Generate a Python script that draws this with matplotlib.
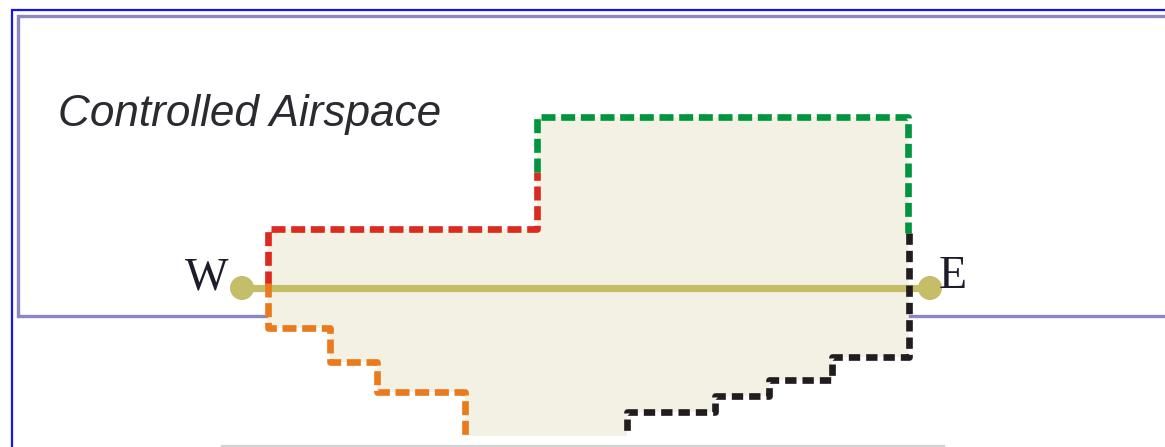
import matplotlib
matplotlib.use("Agg")
import matplotlib.pyplot as plt
from matplotlib.patches import Polygon, Circle
import numpy as np

# ---- diagram data (pixel-like diagram units, y grows downward) ----
region_title = "Controlled Airspace"
west_label = "W"
east_label = "E"

route_x = [242, 930]
route_y = [288, 288]

red_x = [268, 268, 537, 537]
red_y = [285, 229, 229, 172]

green_x = [537, 537, 908, 908]
green_y = [172, 117, 117, 233]

black_x = [909, 909, 832, 832, 769, 769, 715, 715, 627, 627]
black_y = [233, 357, 357, 380, 380, 396, 396, 412, 412, 436]

orange_x = [268, 268, 330, 330, 377, 377, 465, 465]
orange_y = [283, 328, 328, 362, 362, 392, 392, 436]

fill_x = [268, 537, 537, 908, 909, 832, 832, 769, 769, 715, 715, 627, 627,
          465, 465, 377, 377, 330, 330, 268]
fill_y = [229, 229, 117, 117, 357, 357, 380, 380, 396, 396, 412, 412, 436,
          436, 392, 392, 362, 362, 328, 328]

W, H = 1165, 447
fig = plt.figure(figsize=(W / 100, H / 100), dpi=100)
ax = fig.add_axes([0, 0, 1, 1])
ax.set_xlim(0, W)
ax.set_ylim(H, 0)
ax.axis("off")

# outer blue frame
ax.plot([12, 12, W + 5], [H + 5, 9.5, 9.5], color="#1414f5", lw=1.6,
        solid_joinstyle="miter", zorder=1)
# lavender controlled-airspace box
ax.plot([W + 5, 18, 18, W + 5], [15.5, 15.5, 316, 316], color="#8c87c2",
        lw=2.4, solid_joinstyle="miter", zorder=1)
# bottom gray line
ax.plot([222, 944], [446, 446], color="#d2d2d2", lw=1.6, zorder=1)

# filled region
ax.add_patch(Polygon(np.column_stack([fill_x, fill_y]), closed=True,
                     facecolor="#f3f0e4", edgecolor="none", zorder=2))

# route line and endpoints
ax.plot(route_x, route_y, color="#c4be68", lw=5.2, solid_capstyle="butt", zorder=3)
for x, y in zip(route_x, route_y):
    ax.add_patch(Circle((x, y), 12, facecolor="#c4be68", edgecolor="none", zorder=3))

dash = (2.1, 0.85)
kw = dict(lw=4.8, dashes=dash, dash_capstyle="butt", solid_joinstyle="miter", zorder=4)
ax.plot(red_x, red_y, color="#dc2a1f", **kw)
ax.plot(green_x, green_y, color="#00963f", **kw)
ax.plot(orange_x, orange_y, color="#e97b1c", **kw)
ax.plot(black_x, black_y, color="#211d1e", lw=4.8, dashes=(1.7, 0.9),
        dash_capstyle="butt", zorder=4)

# labels
ax.text(58, 126, region_title, fontsize=31.8, style="italic",
        family=["Liberation Sans", "DejaVu Sans"],
        color="#2a2a30", ha="left", va="baseline", zorder=5)
ax.text(185, 290, west_label, fontsize=33, family=["Liberation Serif", "DejaVu Serif"],
        color="#1c1c2a", ha="left", va="baseline", zorder=5)
ax.text(939, 288, east_label, fontsize=33, family=["Liberation Serif", "DejaVu Serif"],
        color="#1c1c2a", ha="left", va="baseline", zorder=5)

fig.savefig("out.png", dpi=100)
